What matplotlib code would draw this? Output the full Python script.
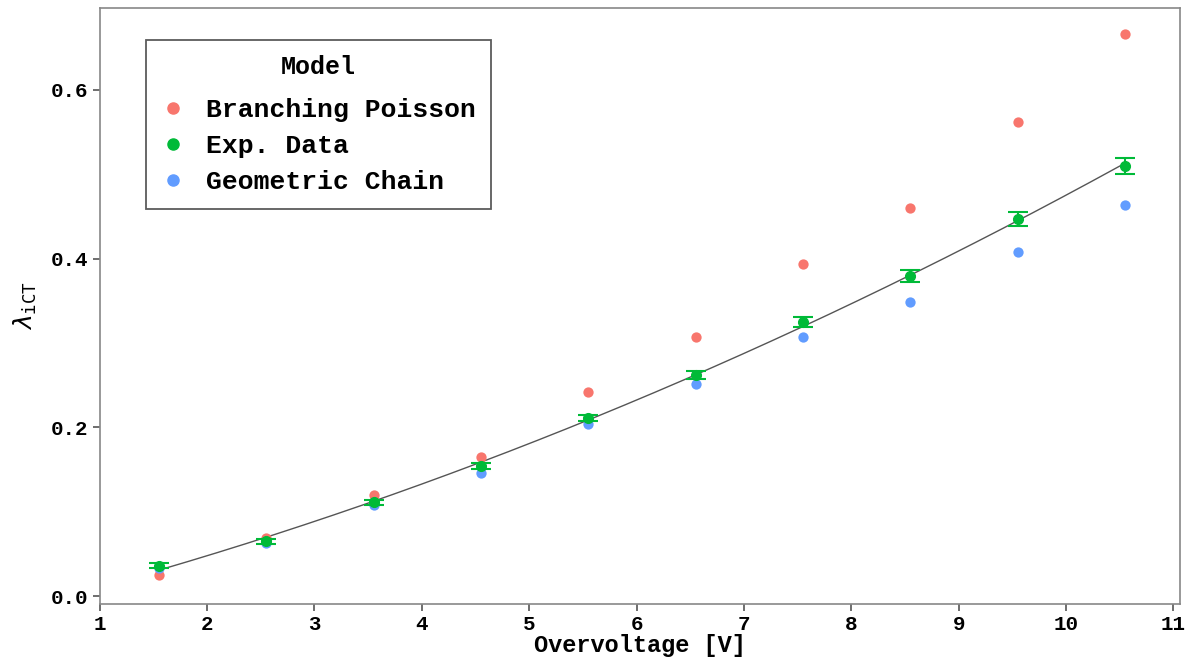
import numpy as np
import matplotlib
matplotlib.use('Agg')
import matplotlib.pyplot as plt
from matplotlib.lines import Line2D

overvoltage = [1.55, 2.55, 3.55, 4.55, 5.55, 6.55, 7.55, 8.55, 9.55, 10.55]
branching_poisson = [0.025, 0.069, 0.120, 0.165, 0.242, 0.307, 0.394, 0.460, 0.562, 0.666]
exp_data = [0.036, 0.065, 0.111, 0.154, 0.211, 0.262, 0.325, 0.379, 0.447, 0.510]
exp_err = [0.003, 0.003, 0.003, 0.004, 0.004, 0.005, 0.006, 0.007, 0.008, 0.0095]
geometric_chain = [0.033, 0.063, 0.108, 0.146, 0.204, 0.251, 0.307, 0.349, 0.408, 0.464]

red = '#F8766D'
green = '#00BA38'
blue = '#619CFF'
mono = 'Liberation Mono'

fig = plt.figure(figsize=(11.87, 6.59), dpi=100)
ax = fig.add_axes([0.084, 0.084, 0.91, 0.904])

# smooth fit through the experimental points
coef = np.polyfit(overvoltage, exp_data, 2)
xs = np.linspace(overvoltage[0], overvoltage[-1], 200)
ax.plot(xs, np.polyval(coef, xs), color='#555555', lw=1.0, zorder=2)

ax.scatter(overvoltage, branching_poisson, s=55, color=red, zorder=3, linewidths=0)
ax.scatter(overvoltage, geometric_chain, s=55, color=blue, zorder=3, linewidths=0)
ax.errorbar(overvoltage, exp_data, yerr=exp_err, fmt='o', ms=7, color=green,
            ecolor=green, elinewidth=1.5, capsize=7.5, capthick=1.5, zorder=4)

ax.set_xlim(1, 11.06)
ax.set_ylim(-0.009, 0.697)
ax.set_xticks(range(1, 12))
ax.set_yticks([0.0, 0.2, 0.4, 0.6])
ax.set_yticklabels(['0.0', '0.2', '0.4', '0.6'])

for s in ax.spines.values():
    s.set_color('#888888')
    s.set_linewidth(1.2)
ax.tick_params(colors='#555555', length=5, width=1.2, labelcolor='black')
for lab in ax.get_xticklabels() + ax.get_yticklabels():
    lab.set_fontfamily(mono)
    lab.set_fontweight('bold')
    lab.set_fontsize(15)

ax.set_xlabel('Overvoltage [V]', fontfamily=mono, fontweight='bold', fontsize=17, labelpad=0)
ax.set_ylabel(r'$\lambda_{\mathtt{iCT}}$', fontsize=18, labelpad=8)

handles = [Line2D([], [], marker='o', ls='', color=c, ms=8) for c in (red, green, blue)]
leg = ax.legend(handles, ['Branching Poisson', 'Exp. Data', 'Geometric Chain'],
                title='Model', loc='upper left', bbox_to_anchor=(0.0426, 0.946),
                borderaxespad=0,
                prop={'family': mono, 'weight': 'bold', 'size': 19},
                title_fontproperties={'family': mono, 'weight': 'bold', 'size': 18},
                frameon=True, fancybox=False, borderpad=0.55, handletextpad=0.75,
                labelspacing=0.46, handlelength=1.0)
leg.get_frame().set_edgecolor('#333333')
leg.get_frame().set_linewidth(1.3)
leg._legend_box.sep = 14

fig.savefig('out.png', dpi=100)
